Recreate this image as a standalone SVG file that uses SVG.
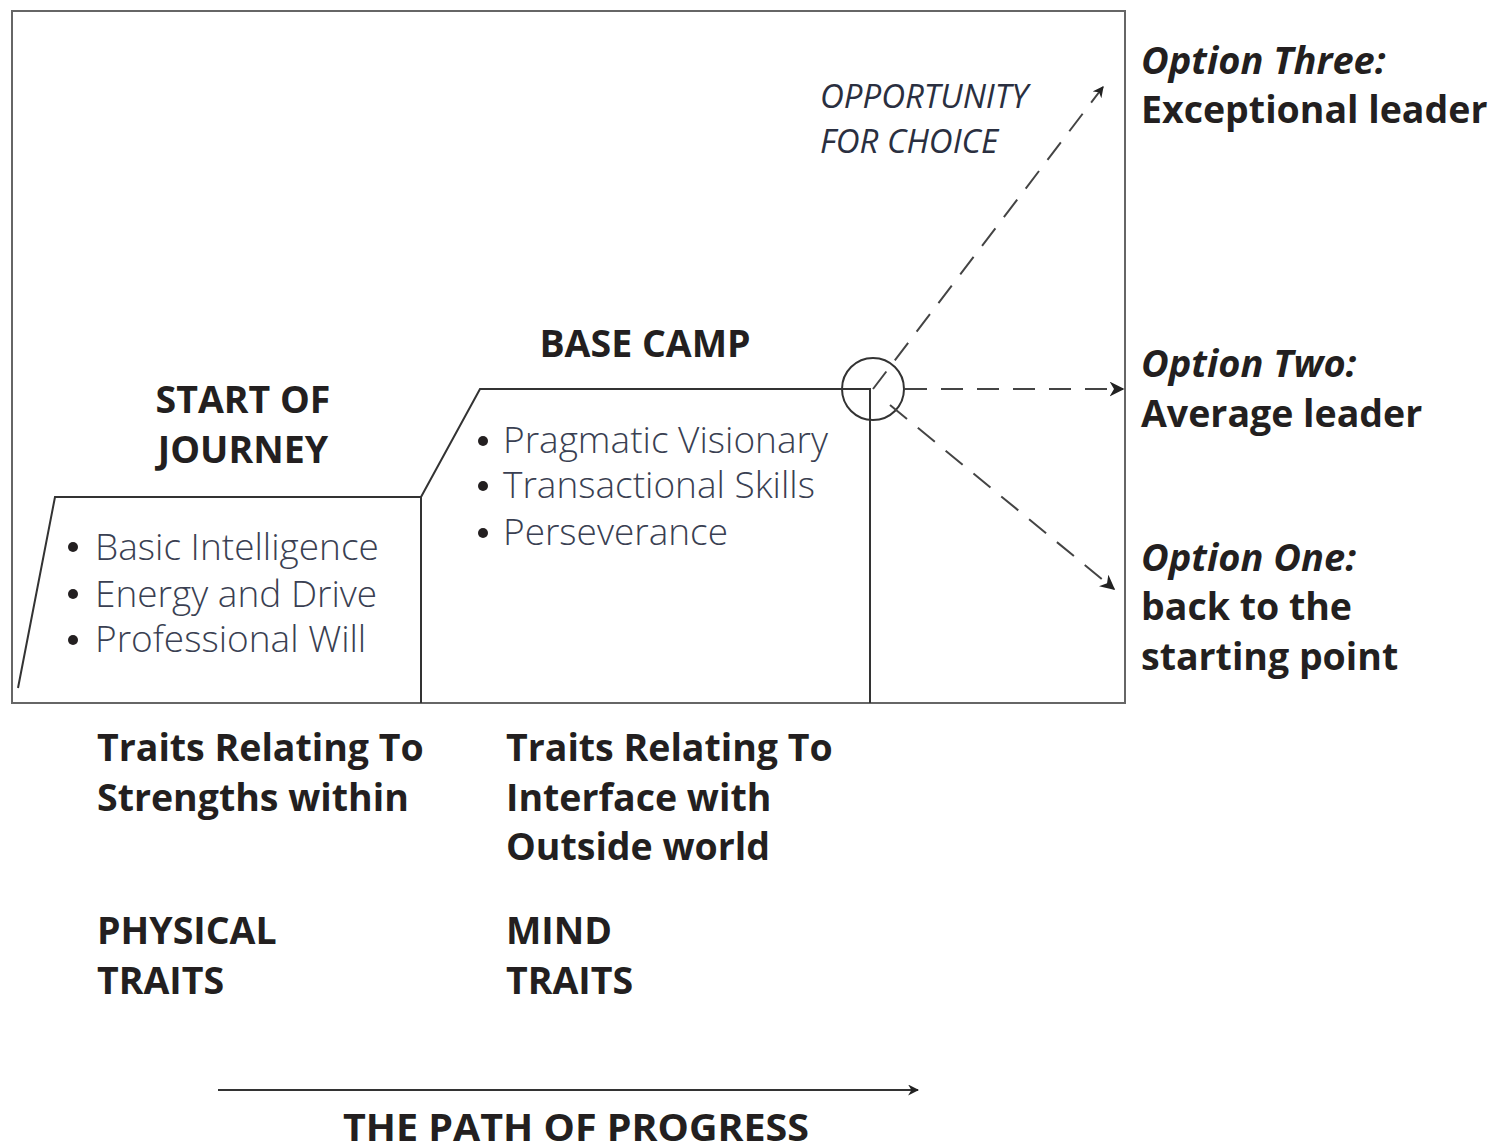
<svg xmlns="http://www.w3.org/2000/svg" width="1493" height="1147" viewBox="0 0 1493 1147">
<style>
.b{font-family:"Open Sans","Noto Sans",sans-serif;font-weight:700;font-size:37.5px;fill:#231f20}
.bi{font-family:"Open Sans","Noto Sans",sans-serif;font-weight:700;font-style:italic;font-size:38px;fill:#231f20}
.l{font-family:"Open Sans","Noto Sans",sans-serif;font-weight:300;font-size:37px;fill:#3a3f52}
.it{font-family:"Open Sans","Noto Sans",sans-serif;font-style:italic;font-size:33px;fill:#2a2f40}
.dot{fill:#231f20}
.ln{stroke:#666;stroke-width:2;fill:none}
.dk{stroke:#333;stroke-width:2;fill:none}
.dash{stroke:#444;stroke-width:2;fill:none;stroke-dasharray:22 14}
</style>
<defs>
<marker id="ah" viewBox="0 0 10 10" refX="9" refY="5" markerWidth="11" markerHeight="11" markerUnits="userSpaceOnUse" orient="auto"><path d="M0,0 L10,5 L0,10 L3,5 z" fill="#222"/></marker>
<marker id="ahb" viewBox="0 0 10 10" refX="9" refY="5" markerWidth="15" markerHeight="15" markerUnits="userSpaceOnUse" orient="auto"><path d="M0,0 L10,5 L0,10 L3,5 z" fill="#222"/></marker>
</defs>
<rect width="1493" height="1147" fill="#fff"/>
<g id="frame"><rect x="12" y="11" width="1113" height="692" class="ln"/></g>
<g id="start">
<path d="M18,688 L55,497 L421,497 L421,703" class="dk"/>
<text class="b" x="243" y="413" text-anchor="middle">START OF</text>
<text class="b" x="243" y="463" text-anchor="middle">JOURNEY</text>
<circle class="dot" cx="73" cy="547" r="5"/><text class="l" x="95" y="560">Basic Intelligence</text>
<circle class="dot" cx="73" cy="594" r="5"/><text class="l" x="95" y="607">Energy and Drive</text>
<circle class="dot" cx="73" cy="640" r="5"/><text class="l" x="95" y="652">Professional Will</text>
</g>
<g id="basecamp">
<path d="M421,497 L480,389 L870,389 L870,703" class="dk"/>
<text class="b" x="645" y="357" text-anchor="middle">BASE CAMP</text>
<circle class="dot" cx="483" cy="441" r="5"/><text class="l" x="503" y="453">Pragmatic Visionary</text>
<circle class="dot" cx="483" cy="486" r="5"/><text class="l" x="503" y="498">Transactional Skills</text>
<circle class="dot" cx="483" cy="533" r="5"/><text class="l" x="503" y="545">Perseverance</text>
</g>
<g id="choice">
<circle cx="873" cy="389" r="31" class="dk"/>
<text class="it" x="820" y="108">OPPORTUNITY</text>
<text class="it" x="820" y="153">FOR CHOICE</text>
</g>
<g id="connectors">
<path d="M873,389 L1103,87" class="dash" marker-end="url(#ah)"/>
<path d="M905,389 L1123,389" class="dash" marker-end="url(#ahb)"/>
<path d="M890,405 L1114,589" class="dash" marker-end="url(#ahb)"/>
<path d="M218,1090 L918,1090" class="dk" marker-end="url(#ah)"/>
</g>
<g id="option3">
<text class="bi" x="1141" y="74">Option Three:</text>
<text class="b" x="1141" y="123">Exceptional leader</text>
</g>
<g id="option2">
<text class="bi" x="1141" y="377">Option Two:</text>
<text class="b" x="1141" y="427">Average leader</text>
</g>
<g id="option1">
<text class="bi" x="1141" y="571">Option One:</text>
<text class="b" x="1141" y="620">back to the</text>
<text class="b" x="1141" y="670">starting point</text>
</g>
<g id="labels">
<text class="b" x="97" y="761">Traits Relating To</text>
<text class="b" x="97" y="811">Strengths within</text>
<text class="b" x="506" y="761">Traits Relating To</text>
<text class="b" x="506" y="811">Interface with</text>
<text class="b" x="506" y="860">Outside world</text>
<text class="b" x="97" y="944">PHYSICAL</text>
<text class="b" x="97" y="994">TRAITS</text>
<text class="b" x="506" y="944">MIND</text>
<text class="b" x="506" y="994">TRAITS</text>
<text class="b" x="343" y="1141" textLength="466" lengthAdjust="spacingAndGlyphs">THE PATH OF PROGRESS</text>
</g>
</svg>
